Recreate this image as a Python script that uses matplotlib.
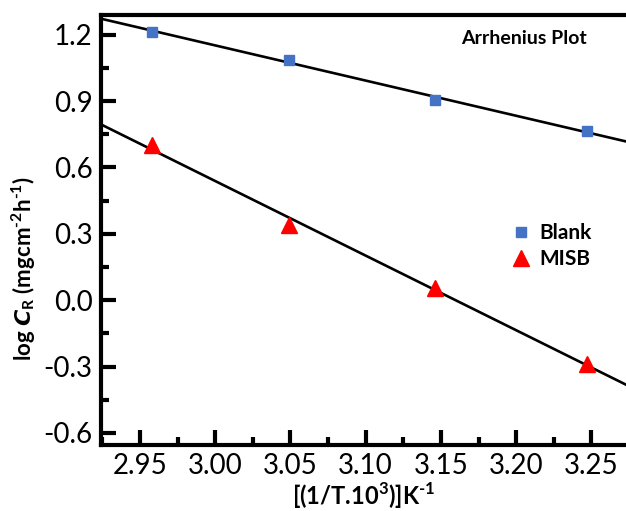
import numpy as np
import matplotlib
matplotlib.use("Agg")
import matplotlib.pyplot as plt
from matplotlib.ticker import MultipleLocator, FormatStrFormatter

plt.rcParams['font.family'] = ['Lato', 'DejaVu Sans']
plt.rcParams['mathtext.fontset'] = 'custom'
plt.rcParams['mathtext.it'] = 'DejaVu Sans:italic:bold'
plt.rcParams['mathtext.rm'] = 'Lato:bold'
plt.rcParams['mathtext.bf'] = 'Lato:bold'

# inverse temperature (1/T x 10^3)
inv_t = [2.958, 3.049, 3.146, 3.247]
# log corrosion rate
blank = [1.214, 1.087, 0.907, 0.763]
misb = [0.700, 0.340, 0.056, -0.290]

fig = plt.figure(figsize=(6.26, 5.11), dpi=100)
ax = fig.add_axes([0.161, 0.129, 0.839, 0.842])

xlim = (2.924, 3.273)
xs = np.array(xlim)
for ys in (blank, misb):
    k, b = np.polyfit(inv_t, ys, 1)
    ax.plot(xs, k * xs + b, color='black', lw=1.9, zorder=2)

ax.plot(inv_t, blank, 's', color='#4472C4', ms=6.5, label='Blank', zorder=3)
ax.plot(inv_t, misb, '^', color='#FF0000', ms=11, label='MISB', zorder=3)

ax.set_xlim(*xlim)
ax.set_ylim(-0.655, 1.29)
ax.xaxis.set_major_locator(MultipleLocator(0.05))
ax.xaxis.set_minor_locator(MultipleLocator(0.025))
ax.yaxis.set_major_locator(MultipleLocator(0.3))
ax.yaxis.set_minor_locator(MultipleLocator(0.15))
ax.xaxis.set_major_formatter(FormatStrFormatter('%.2f'))
ax.yaxis.set_major_formatter(FormatStrFormatter('%.1f'))

ax.tick_params(which='major', direction='in', length=11, width=3, labelsize=20, pad=6)
ax.tick_params(which='minor', direction='in', length=6, width=3)
ax.tick_params(top=False, right=False, which='both')
for s in ('left', 'bottom', 'top'):
    ax.spines[s].set_linewidth(3)
ax.spines['right'].set_visible(False)

ax.set_xlabel('[(1/T.10$^{3}$)]K$^{\u20101}$', fontsize=17, fontweight='bold', labelpad=1)
ax.set_ylabel('log $C_{\\mathrm{R}}$ (mgcm$^{\u20102}$h$^{\u20101}$)', fontsize=16, fontweight='bold')
ax.yaxis.set_label_coords(-0.12, 0.41)

ax.text(0.925, 0.945, 'Arrhenius Plot', transform=ax.transAxes, fontsize=14,
        fontweight='bold', ha='right', va='center')

ax.legend(loc='upper left', bbox_to_anchor=(0.74, 0.56), frameon=False,
          prop={'weight': 'bold', 'size': 15}, handletextpad=0.3,
          labelspacing=0.3, handlelength=1.2)

fig.savefig('out.png', dpi=100)
